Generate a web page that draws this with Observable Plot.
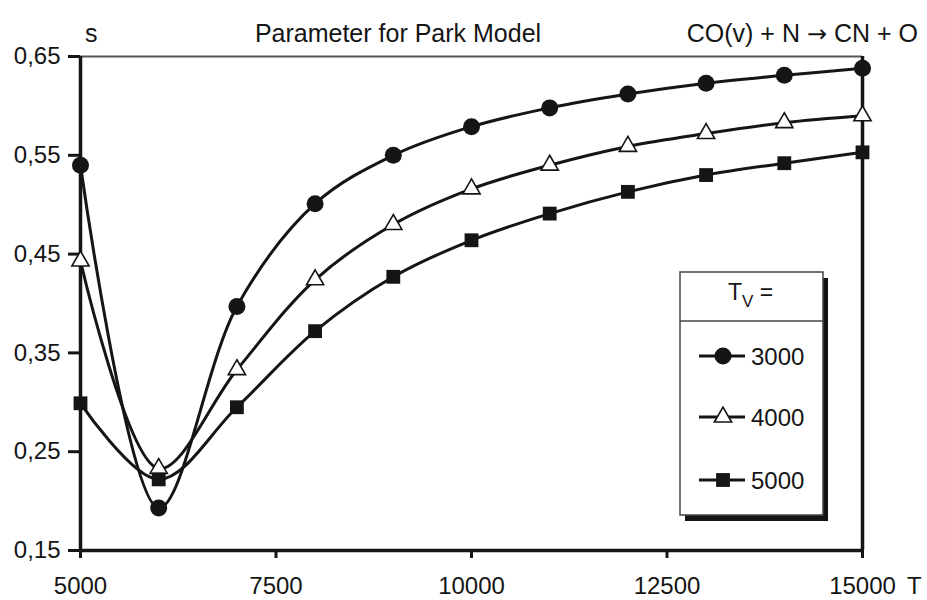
<!DOCTYPE html>
<html>
<head>
<meta charset="utf-8">
<script src="https://cdn.jsdelivr.net/npm/d3@7"></script>
<script src="https://cdn.jsdelivr.net/npm/@observablehq/plot@0.6"></script>
<style>
  body { margin: 0; background: #fff; }
  #chart { width: 927px; height: 600px; }
</style>
</head>
<body>
<div id="chart"></div>
<script>
// ---- data ----
const temperatures = [5000, 6000, 7000, 8000, 9000, 10000, 11000, 12000, 13000, 14000, 15000];
const sTv3000 = [0.540, 0.193, 0.397, 0.501, 0.550, 0.579, 0.598, 0.612, 0.623, 0.631, 0.638];
const sTv4000 = [0.443, 0.233, 0.333, 0.424, 0.480, 0.516, 0.540, 0.559, 0.572, 0.583, 0.590];
const sTv5000 = [0.299, 0.222, 0.295, 0.372, 0.427, 0.464, 0.491, 0.513, 0.530, 0.542, 0.553];
const seriesNames = ["3000", "4000", "5000"];
const seriesSymbols = ["circle", "triangle", "square"];
const xTicks = [5000, 7500, 10000, 12500, 15000];
const yTicks = [0.15, 0.25, 0.35, 0.45, 0.55, 0.65];
const titleText = "Parameter for Park Model";
const reactionLeft = "CO(v) + N ";
const reactionArrow = "\u2192";
const reactionRight = " CN + O";
const yLabel = "s";
const xLabel = "T";

const seriesValues = [sTv3000, sTv4000, sTv5000];
const rows = temperatures.flatMap((t, i) =>
  seriesNames.map((name, j) => ({ T: t, s: seriesValues[j][i], series: name }))
);

const ink = "#151515";
const font = "'Liberation Sans', Arial, Helvetica, sans-serif";

const plot = Plot.plot({
  width: 927,
  height: 600,
  marginLeft: 80,
  marginRight: 65,
  marginTop: 56,
  marginBottom: 50,
  style: { fontFamily: font, fontSize: "24px", color: ink, background: "#fff", overflow: "visible" },
  x: { domain: [5000, 15000] },
  y: { domain: [0.15, 0.65] },
  marks: [
    Plot.ruleY([0.65], { stroke: "#555", strokeWidth: 2 }),
    Plot.ruleX([15000], { stroke: ink, strokeWidth: 3.5 }),
    Plot.axisY({
      ticks: yTicks, tickSize: 12, tickPadding: 8, strokeWidth: 3,
      tickFormat: d => d.toFixed(2).replace(".", ","), label: null
    }),
    Plot.axisX({
      ticks: xTicks, tickSize: 8, tickPadding: 18, strokeWidth: 3,
      tickFormat: d => String(d), label: null
    }),
    Plot.ruleX([5000], { stroke: ink, strokeWidth: 3.5 }),
    Plot.ruleY([0.15], { stroke: ink, strokeWidth: 3.5 }),
    Plot.line(rows, { x: "T", y: "s", z: "series", curve: "catmull-rom", stroke: ink, strokeWidth: 3 }),
    Plot.dot(rows, { filter: d => d.series === seriesNames[0], x: "T", y: "s", symbol: () => seriesSymbols[0], r: 8.5, fill: ink, stroke: "none" }),
    Plot.dot(rows, { filter: d => d.series === seriesNames[1], x: "T", y: "s", symbol: () => seriesSymbols[1], r: 6.4, fill: "#fff", stroke: ink, strokeWidth: 1.6 }),
    Plot.dot(rows, { filter: d => d.series === seriesNames[2], x: "T", y: "s", symbol: () => seriesSymbols[2], r: 7.8, fill: ink, stroke: "none" })
  ]
});

document.getElementById("chart").appendChild(plot);

// ---- annotations and legend ----
const svg = d3.select(plot);
const xs = plot.scale("x");
const xPx = v => xs.apply(v);

const ann = svg.append("g").attr("font-family", font).attr("fill", ink).attr("text-anchor", "start");
ann.append("text").attr("x", xPx(5000) + 5).attr("y", 42).attr("font-size", 25).text(yLabel);
ann.append("text").attr("x", 398).attr("y", 42).attr("font-size", 25).attr("text-anchor", "middle").text(titleText);
const rx = ann.append("text").attr("x", 918).attr("y", 42).attr("font-size", 25).attr("text-anchor", "end");
rx.append("tspan").text(reactionLeft);
rx.append("tspan").attr("font-family", "'DejaVu Sans', sans-serif").attr("font-size", 24).text(reactionArrow);
rx.append("tspan").text(reactionRight);
ann.append("text").attr("x", xPx(15000) + 45).attr("y", 594).attr("font-size", 24).text(xLabel);

// legend
const lg = svg.append("g").attr("font-family", font).attr("text-anchor", "start");
const bx = 680, by = 272, bw = 143, bh = 243;
lg.append("rect").attr("x", bx + 5).attr("y", by + 6).attr("width", bw).attr("height", bh).attr("fill", ink);
lg.append("rect").attr("x", bx).attr("y", by).attr("width", bw).attr("height", bh)
  .attr("fill", "#fff").attr("stroke", "#444").attr("stroke-width", 1.5);
lg.append("line").attr("x1", bx).attr("x2", bx + bw).attr("y1", 321).attr("y2", 321)
  .attr("stroke", "#444").attr("stroke-width", 1.5);
const head = lg.append("text").attr("x", 728).attr("y", 300).attr("font-size", 23).attr("fill", ink);
head.append("tspan").text("T");
head.append("tspan").attr("font-size", 17).attr("dy", 7).text("V");
head.append("tspan").attr("dy", -7).text(" =");

const entryY = [356, 417, 480];
seriesNames.forEach((name, i) => {
  const g = lg.append("g").attr("transform", `translate(0,${entryY[i]})`);
  g.append("line").attr("x1", 699).attr("x2", 745).attr("y1", 0).attr("y2", 0)
    .attr("stroke", ink).attr("stroke-width", 3);
  const sym = i === 0 ? d3.symbolCircle : i === 1 ? d3.symbolTriangle : d3.symbolSquare;
  const r = i === 0 ? 8.5 : i === 1 ? 6.4 : 7.8;
  g.append("path").attr("transform", "translate(723,0)")
    .attr("d", d3.symbol(sym, Math.PI * r * r)())
    .attr("fill", i === 1 ? "#fff" : ink)
    .attr("stroke", i === 1 ? ink : "none")
    .attr("stroke-width", 1.6);
  g.append("text").attr("x", 751).attr("y", 8.5).attr("font-size", 24).attr("fill", ink).text(name);
});
</script>
</body>
</html>
